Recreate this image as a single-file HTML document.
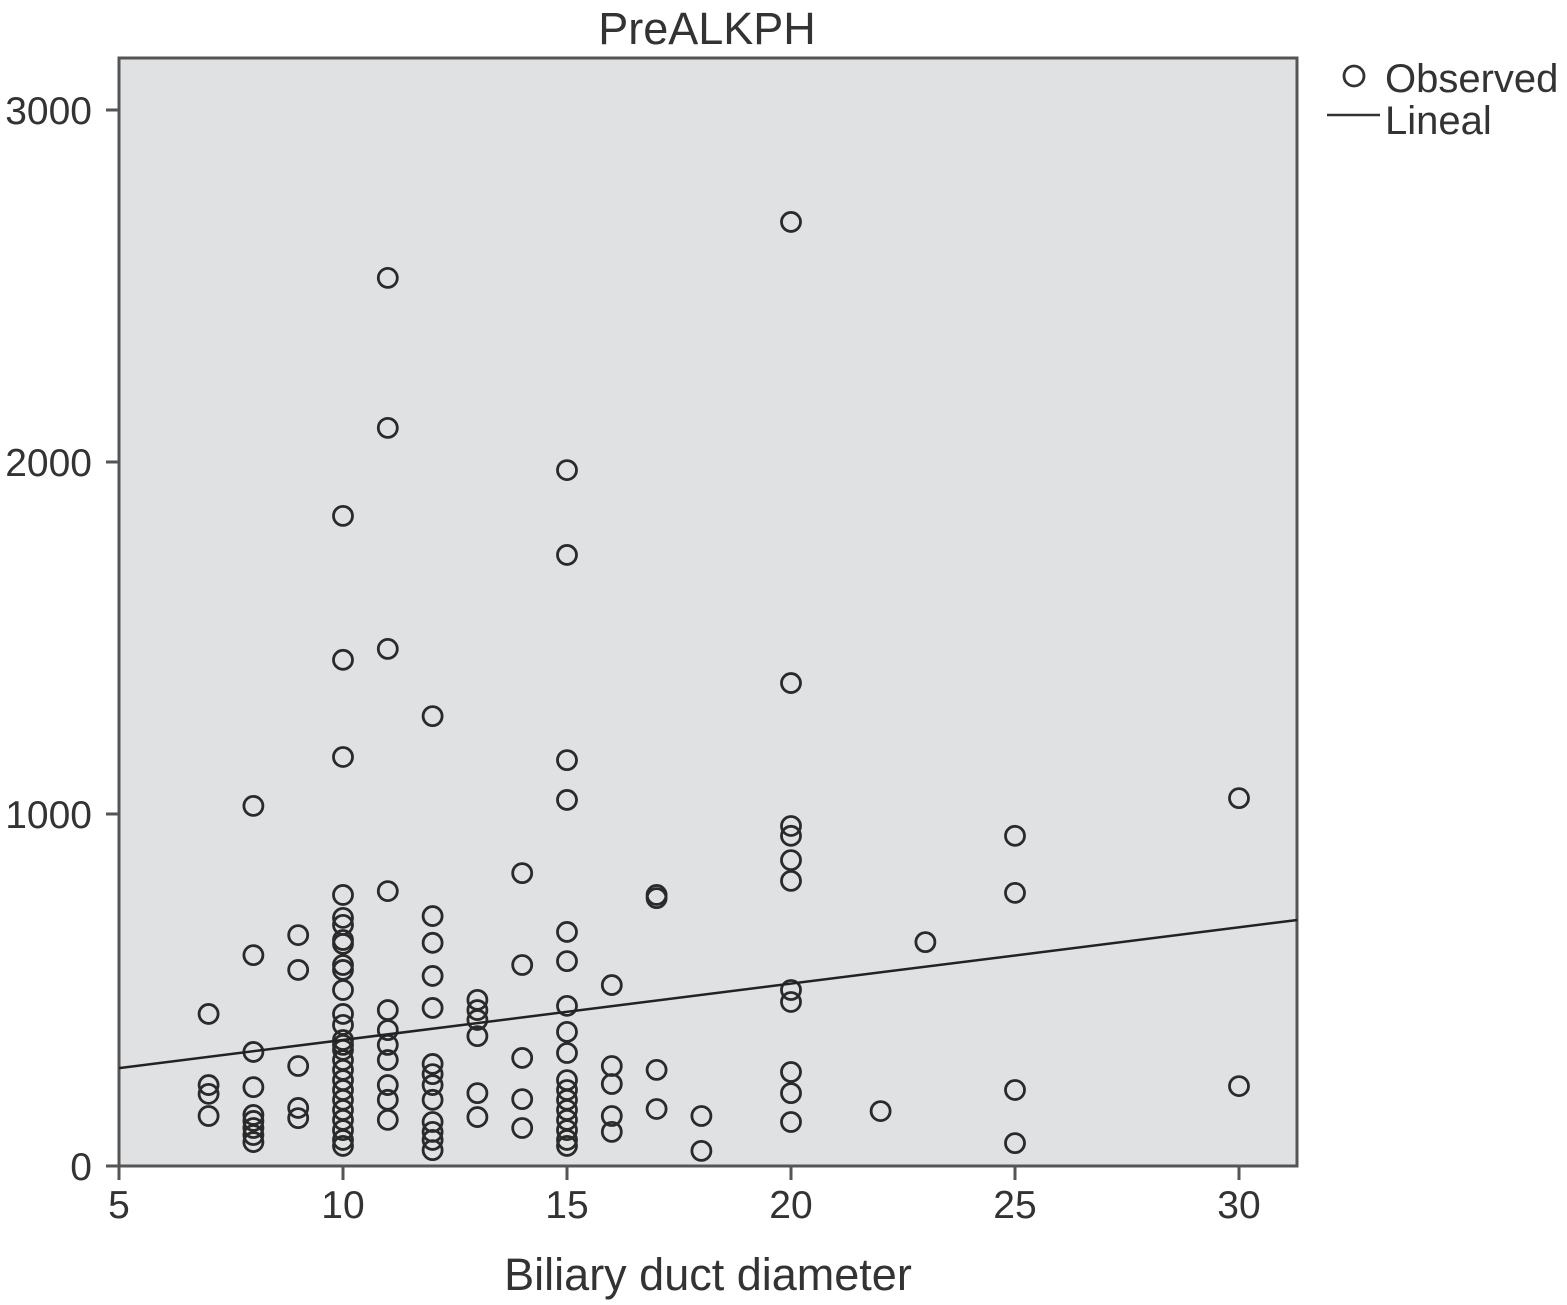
<!DOCTYPE html>
<html><head><meta charset="utf-8"><style>
body{margin:0;background:#fff;}
svg text{font-family:"Liberation Sans",sans-serif;fill:#333;}
</style></head><body>
<svg id="chart" width="1567" height="1300" xmlns="http://www.w3.org/2000/svg">
<rect x="119" y="58" width="1178" height="1108" fill="#e0e1e3" stroke="#555" stroke-width="3"/>
<text x="707" y="44" font-size="45" text-anchor="middle">PreALKPH</text>
<text x="708" y="1290" font-size="45" text-anchor="middle">Biliary duct diameter</text>
<g>
<circle cx="1354" cy="76" r="10" fill="none" stroke="#333" stroke-width="2.8"/>
<text x="1385" y="92" font-size="40">Observed</text>
<line x1="1327" y1="115" x2="1380" y2="115" stroke="#333" stroke-width="2.5"/>
<text x="1385" y="134" font-size="40">Lineal</text>
</g>
<g id="axes"></g>
<g id="marks"></g>
</svg>
<script>
const xTicks=[5,10,15,20,25,30];
const yTicks=[0,1000,2000,3000];
const xs=[7,7,7,7, 8,8,8,8,8,8,8,8,8, 9,9,9,9,9,
10,10,10,10,10,10,10,10,10,10,10,10,10,10,10,10,10,10,10,10,10,10,10,10,10,10,
11,11,11,11,11,11,11,11,11,11,11,
12,12,12,12,12,12,12,12,12,12,12,12,12,
13,13,13,13,13,13, 14,14,14,14,14,
15,15,15,15,15,15,15,15,15,15,15,15,15,15,15,15,15,
16,16,16,16,16, 17,17,17,17, 18,18,
20,20,20,20,20,20,20,20,20,20,20, 22, 23, 25,25,25,25, 30,30];
const ys=[432,230,205,142, 1023,599,324,224,145,128,108,88,68, 656,557,284,165,136,
1847,1438,1162,770,705,685,642,631,571,557,500,432,401,358,344,330,301,273,244,216,188,159,131,102,74,57,
2523,2097,1469,781,443,386,344,301,230,188,131,
1278,710,634,540,449,290,261,230,188,125,97,74,45,
472,443,415,369,207,139, 832,571,307,190,108,
1977,1736,1153,1040,665,582,455,381,321,244,216,188,159,131,102,74,57,
514,284,233,142,97, 770,761,273,162, 142,43,
2682,1372,966,938,869,810,500,466,267,207,125, 156, 636, 938,776,216,65, 1045,227];
const fitStart=[5,278];
const fitEnd=[31.3,699];
const X=v=>119+(v-5)*44.8;
const Y=v=>1166-v*0.352;
const NS="http://www.w3.org/2000/svg";
const axes=document.getElementById('axes'),marks=document.getElementById('marks');
function mk(tag,attrs,parent){const e=document.createElementNS(NS,tag);for(const k in attrs)e.setAttribute(k,attrs[k]);parent.appendChild(e);return e;}
xTicks.forEach(t=>{
 const l=mk('line',{x1:X(t),x2:X(t),y1:1166,y2:1180,stroke:'#555','stroke-width':3},axes);
 
 
 const tx=mk('text',{x:X(t),y:1218,'font-size':39,'text-anchor':'middle'},axes);tx.textContent=t;
 
 
});
yTicks.forEach(t=>{
 const l=mk('line',{x1:106,x2:119,y1:Y(t),y2:Y(t),stroke:'#555','stroke-width':3},axes);
 
 
 const tx=mk('text',{x:92,y:Y(t)+14,'font-size':39,'text-anchor':'end'},axes);tx.textContent=t;
 
 
});
xs.forEach((x,i)=>{
 const c=mk('circle',{cx:X(x),cy:Y(ys[i]),r:9.5,fill:'none',stroke:'#2a2a2a','stroke-width':2.8},marks);
 
 
});
const fl=mk('line',{x1:X(fitStart[0]),y1:Y(fitStart[1]),x2:X(fitEnd[0]),y2:Y(fitEnd[1]),stroke:'#222','stroke-width':2.5},marks);


</script>
</body></html>
